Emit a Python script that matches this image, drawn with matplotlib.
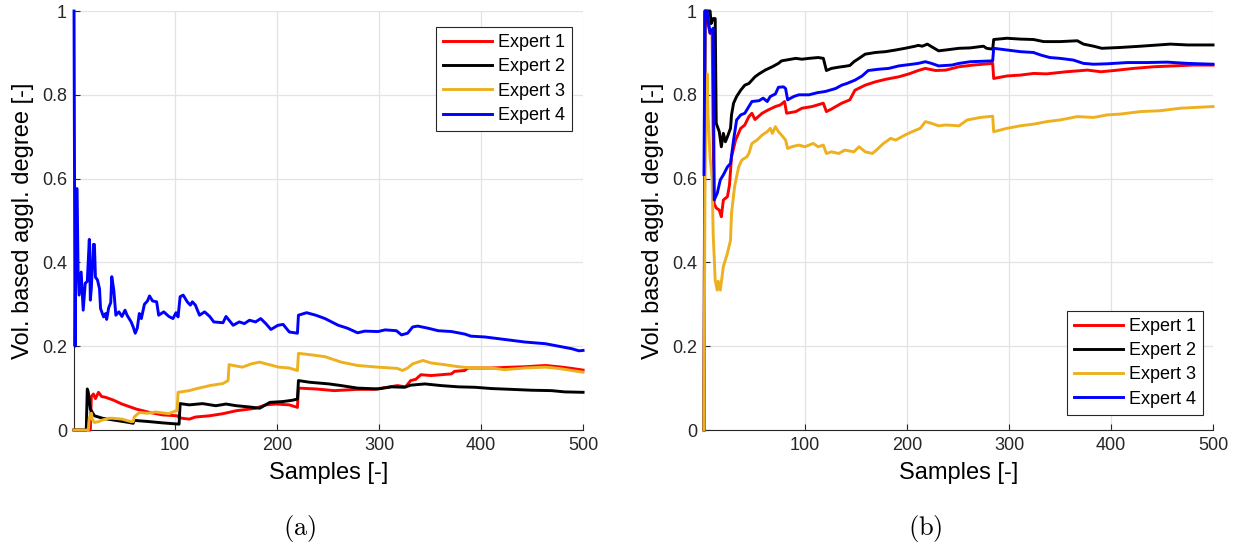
import numpy as np
import matplotlib
matplotlib.use("Agg")
import matplotlib.pyplot as plt

plt.rcParams['font.family'] = ['Liberation Sans', 'DejaVu Sans']
plt.rcParams['mathtext.fontset'] = 'cm'

labels = ["Expert 1", "Expert 2", "Expert 3", "Expert 4"]
colors = ["#ff0000", "#000000", "#edb120", "#0000ff"]

# (a) agglomeration degree per expert
a1_x = [1, 14, 17, 18, 20, 22, 25, 28, 32, 39, 48, 62, 75, 88, 102, 104, 107, 114, 120, 134, 147, 160, 173, 179, 189, 199, 212, 220, 221, 238, 256, 279, 295, 308, 318, 326, 331, 336, 341, 351, 361, 371, 374, 384, 387, 410, 430, 443, 463, 476, 489, 500]
a1_y = [0, 0, 0, 0.08, 0.086, 0.075, 0.09, 0.08, 0.078, 0.072, 0.062, 0.05, 0.042, 0.036, 0.034, 0.03, 0.028, 0.026, 0.031, 0.034, 0.039, 0.046, 0.05, 0.052, 0.06, 0.062, 0.06, 0.054, 0.1, 0.098, 0.094, 0.097, 0.097, 0.102, 0.106, 0.103, 0.118, 0.121, 0.132, 0.13, 0.132, 0.134, 0.14, 0.142, 0.148, 0.148, 0.15, 0.151, 0.154, 0.151, 0.147, 0.143]

a2_x = [1, 13, 14, 15, 17, 21, 29, 42, 55, 59, 60, 75, 88, 104, 105, 114, 127, 140, 150, 160, 173, 183, 193, 206, 215, 220, 221, 232, 251, 263, 279, 299, 312, 325, 331, 345, 361, 378, 394, 410, 430, 449, 469, 482, 500]
a2_y = [0, 0, 0.098, 0.09, 0.05, 0.034, 0.028, 0.023, 0.018, 0.016, 0.023, 0.02, 0.017, 0.014, 0.063, 0.06, 0.063, 0.058, 0.062, 0.058, 0.055, 0.052, 0.066, 0.068, 0.071, 0.074, 0.118, 0.114, 0.11, 0.106, 0.1, 0.098, 0.103, 0.102, 0.107, 0.11, 0.106, 0.103, 0.102, 0.099, 0.097, 0.095, 0.094, 0.091, 0.09]

a3_x = [1, 15, 16, 17, 18, 19, 21, 25, 29, 35, 39, 48, 57, 59, 60, 65, 73, 81, 94, 101, 102, 103, 114, 120, 134, 147, 152, 153, 166, 175, 183, 189, 202, 212, 220, 221, 238, 247, 263, 279, 299, 312, 318, 323, 328, 333, 343, 351, 364, 378, 387, 410, 423, 443, 463, 476, 489, 500]
a3_y = [0, 0, 0.03, 0.034, 0.04, 0.025, 0.018, 0.02, 0.024, 0.028, 0.028, 0.026, 0.02, 0.02, 0.031, 0.042, 0.04, 0.043, 0.039, 0.046, 0.046, 0.09, 0.094, 0.098, 0.106, 0.111, 0.118, 0.156, 0.15, 0.158, 0.162, 0.158, 0.15, 0.148, 0.142, 0.183, 0.178, 0.175, 0.162, 0.154, 0.15, 0.148, 0.147, 0.142, 0.148, 0.158, 0.166, 0.16, 0.156, 0.151, 0.149, 0.148, 0.144, 0.148, 0.15, 0.147, 0.142, 0.138]

a4_x = [1, 2, 3, 4, 5, 6, 8, 10, 12, 14, 16, 17, 18, 20, 21, 22, 24, 26, 27, 30, 32, 33, 35, 37, 38, 40, 42, 45, 48, 51, 53, 57, 59, 61, 63, 65, 67, 70, 73, 75, 78, 82, 84, 89, 94, 98, 101, 103, 105, 108, 112, 115, 117, 120, 124, 129, 134, 138, 147, 150, 157, 163, 168, 173, 179, 184, 189, 194, 201, 206, 212, 220, 221, 229, 238, 247, 260, 269, 279, 286, 299, 306, 317, 322, 328, 333, 338, 348, 358, 371, 384, 390, 404, 417, 430, 443, 463, 476, 489, 496, 500]
a4_y = [1.0, 0.2, 0.576, 0.576, 0.377, 0.322, 0.377, 0.286, 0.35, 0.355, 0.455, 0.31, 0.34, 0.443, 0.443, 0.365, 0.358, 0.337, 0.29, 0.27, 0.278, 0.264, 0.292, 0.304, 0.366, 0.334, 0.274, 0.282, 0.271, 0.286, 0.274, 0.258, 0.246, 0.231, 0.243, 0.278, 0.266, 0.3, 0.308, 0.32, 0.308, 0.306, 0.274, 0.282, 0.271, 0.266, 0.28, 0.27, 0.318, 0.322, 0.306, 0.298, 0.306, 0.298, 0.274, 0.282, 0.271, 0.258, 0.256, 0.271, 0.25, 0.258, 0.254, 0.262, 0.258, 0.266, 0.254, 0.24, 0.25, 0.252, 0.234, 0.231, 0.274, 0.28, 0.274, 0.266, 0.25, 0.243, 0.232, 0.236, 0.235, 0.239, 0.237, 0.227, 0.231, 0.246, 0.248, 0.243, 0.237, 0.235, 0.229, 0.224, 0.222, 0.218, 0.214, 0.21, 0.206, 0.2, 0.194, 0.189, 0.19]

# (b) agglomeration degree per expert
b1_x = [1, 2, 7, 9, 10, 11, 13, 16, 18, 20, 24, 26, 28, 32, 37, 41, 45, 48, 51, 58, 64, 71, 76, 80, 82, 91, 97, 107, 118, 121, 126, 136, 144, 149, 159, 169, 179, 192, 202, 211, 218, 228, 238, 251, 265, 284, 285, 298, 311, 324, 337, 356, 377, 390, 403, 422, 442, 461, 481, 500]
b1_y = [0, 1.0, 0.947, 0.95, 0.708, 0.54, 0.53, 0.525, 0.509, 0.549, 0.557, 0.585, 0.652, 0.692, 0.72, 0.728, 0.748, 0.756, 0.741, 0.756, 0.764, 0.772, 0.776, 0.784, 0.756, 0.76, 0.768, 0.772, 0.78, 0.76, 0.766, 0.78, 0.788, 0.811, 0.823, 0.831, 0.837, 0.843, 0.85, 0.858, 0.863, 0.858, 0.859, 0.867, 0.871, 0.875, 0.839, 0.845, 0.847, 0.851, 0.85, 0.855, 0.859, 0.855, 0.858, 0.863, 0.867, 0.869, 0.871, 0.871]

b2_x = [1, 2, 7, 8, 10, 12, 13, 16, 18, 20, 22, 24, 27, 28, 30, 33, 37, 41, 45, 48, 51, 55, 61, 68, 74, 77, 84, 91, 97, 104, 113, 118, 121, 126, 133, 139, 144, 148, 153, 159, 169, 179, 189, 198, 208, 211, 215, 220, 224, 231, 238, 251, 262, 275, 278, 284, 285, 298, 311, 324, 334, 350, 367, 373, 383, 391, 409, 429, 458, 475, 500]
b2_y = [0, 1.0, 1.0, 0.97, 0.982, 0.982, 0.732, 0.712, 0.676, 0.708, 0.688, 0.7, 0.72, 0.752, 0.78, 0.796, 0.811, 0.823, 0.827, 0.835, 0.843, 0.85, 0.859, 0.867, 0.875, 0.881, 0.884, 0.887, 0.885, 0.887, 0.889, 0.887, 0.858, 0.863, 0.866, 0.868, 0.87, 0.879, 0.887, 0.897, 0.901, 0.903, 0.907, 0.911, 0.916, 0.918, 0.916, 0.921, 0.915, 0.905, 0.907, 0.911, 0.912, 0.916, 0.911, 0.909, 0.932, 0.935, 0.933, 0.932, 0.927, 0.927, 0.929, 0.921, 0.916, 0.911, 0.913, 0.916, 0.921, 0.919, 0.919]

b3_x = [1, 2, 4, 5, 7, 9, 10, 12, 14, 15, 17, 20, 24, 27, 28, 31, 35, 38, 43, 45, 48, 53, 58, 63, 66, 68, 71, 74, 77, 81, 83, 87, 94, 100, 108, 113, 118, 121, 126, 133, 139, 148, 153, 159, 166, 170, 177, 184, 189, 198, 205, 213, 218, 224, 231, 238, 251, 259, 272, 284, 285, 298, 311, 324, 337, 350, 367, 383, 396, 409, 429, 448, 468, 500]
b3_y = [0, 0.61, 0.85, 0.75, 0.65, 0.6, 0.469, 0.358, 0.334, 0.355, 0.334, 0.39, 0.422, 0.453, 0.517, 0.581, 0.628, 0.644, 0.652, 0.66, 0.684, 0.692, 0.704, 0.712, 0.72, 0.708, 0.724, 0.712, 0.704, 0.692, 0.672, 0.676, 0.68, 0.676, 0.684, 0.676, 0.68, 0.66, 0.664, 0.66, 0.668, 0.664, 0.676, 0.664, 0.66, 0.668, 0.684, 0.696, 0.692, 0.704, 0.712, 0.72, 0.736, 0.732, 0.726, 0.728, 0.726, 0.74, 0.746, 0.749, 0.712, 0.72, 0.726, 0.73, 0.736, 0.74, 0.748, 0.746, 0.752, 0.754, 0.76, 0.762, 0.768, 0.772]

b4_x = [1, 2, 4, 7, 10, 11, 14, 17, 20, 24, 27, 30, 33, 37, 41, 45, 48, 55, 59, 63, 66, 71, 74, 79, 81, 83, 89, 94, 104, 112, 120, 130, 136, 141, 149, 156, 162, 172, 182, 192, 205, 211, 218, 224, 231, 244, 251, 262, 284, 285, 298, 311, 324, 331, 340, 350, 363, 373, 383, 396, 416, 435, 455, 475, 500]
b4_y = [0.61, 1.0, 1.0, 0.947, 0.959, 0.549, 0.565, 0.597, 0.609, 0.628, 0.636, 0.692, 0.74, 0.752, 0.756, 0.772, 0.784, 0.786, 0.792, 0.784, 0.796, 0.802, 0.818, 0.819, 0.815, 0.788, 0.796, 0.8, 0.8, 0.805, 0.808, 0.815, 0.823, 0.827, 0.835, 0.845, 0.858, 0.861, 0.863, 0.869, 0.873, 0.875, 0.879, 0.875, 0.869, 0.871, 0.875, 0.879, 0.881, 0.911, 0.907, 0.903, 0.901, 0.895, 0.889, 0.887, 0.883, 0.875, 0.873, 0.874, 0.877, 0.877, 0.878, 0.875, 0.873]

panel_a = [(a1_x, a1_y), (a2_x, a2_y), (a3_x, a3_y), (a4_x, a4_y)]
panel_b = [(b1_x, b1_y), (b2_x, b2_y), (b3_x, b3_y), (b4_x, b4_y)]

fig = plt.figure(figsize=(12.44, 5.48), dpi=100)
ax_a = fig.add_axes([0.0595, 0.2153, 0.4092, 0.7646])
ax_b = fig.add_axes([0.5659, 0.2153, 0.4092, 0.7646])

panels = [(ax_a, panel_a, 'upper right', (0.978, 0.962), 0.241, '(a)'),
          (ax_b, panel_b, 'lower right', (0.980, 0.036), 0.744, '(b)')]

for ax, series, loc, anchor, caption_x, caption in panels:
    for (x, y), c, lab in zip(series, colors, labels):
        ax.plot(x, y, color=c, lw=2.1, label=lab, zorder=3, clip_on=False)
    ax.set_xlim(1, 500)
    ax.set_ylim(0, 1)
    ax.set_xticks([100, 200, 300, 400, 500])
    ax.set_yticks([0, 0.2, 0.4, 0.6, 0.8, 1])
    ax.set_yticklabels(['0', '0.2', '0.4', '0.6', '0.8', '1'])
    ax.grid(True, color='#e3e3e3', lw=0.9)
    ax.set_axisbelow(True)
    for s in ['top', 'right']:
        ax.spines[s].set_visible(False)
    for s in ['left', 'bottom']:
        ax.spines[s].set_color('#262626')
        ax.spines[s].set_linewidth(0.8)
        ax.spines[s].set_zorder(2.5)
    ax.tick_params(direction='in', length=4, width=0.8, colors='#262626',
                   labelsize=13, labelcolor='#262626', pad=5)
    ax.set_xlabel('Samples [-]', fontsize=17, labelpad=6)
    ax.set_ylabel('Vol. based aggl. degree [-]', fontsize=17, labelpad=6)
    leg = ax.legend(loc=loc, bbox_to_anchor=anchor, fontsize=13, frameon=True,
                    fancybox=False, edgecolor='#262626', framealpha=1,
                    handlelength=2.7, borderaxespad=0, handletextpad=0.3,
                    labelspacing=0.4, borderpad=0.4)
    leg.get_frame().set_linewidth(0.8)
    leg.set_zorder(5)
    fig.text(caption_x, 0.036, r'$\mathrm{' + caption + '}$', fontsize=19,
             ha='center', va='center')

fig.savefig('out.png', dpi=100)
